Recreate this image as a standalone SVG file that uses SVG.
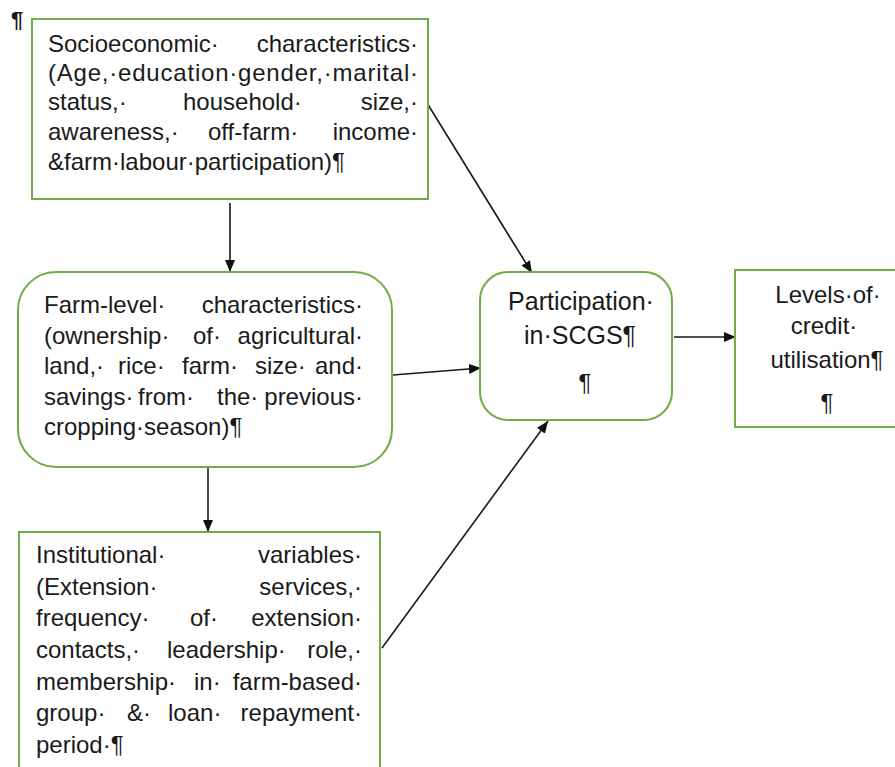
<svg xmlns="http://www.w3.org/2000/svg" width="895" height="767" viewBox="0 0 895 767">
<style>
.box{fill:#fff;stroke:#70AD47;stroke-width:2}
.t{font-family:"Liberation Sans",Arial,sans-serif;font-size:24px;fill:#1a1a1a}
.e{text-anchor:end}
.m{text-anchor:middle}
.c{stroke:#1a1a1a;stroke-width:1.6;fill:none;marker-end:url(#ah)}
</style>
<defs>
<marker id="ah" markerWidth="12" markerHeight="12" refX="12" refY="6" orient="auto" markerUnits="userSpaceOnUse">
<path d="M0,1 L12,6 L0,11 Z" fill="#111"/>
</marker>
</defs>
<rect width="895" height="767" fill="#fff"/>
<text class="t" x="11" y="27" style="font-size:22px;font-weight:bold">¶</text>

<g id="connectors">
<line class="c" x1="230" y1="203" x2="230" y2="272"/>
<line class="c" x1="427" y1="103" x2="532" y2="273"/>
<line class="c" x1="393" y1="375" x2="481" y2="368"/>
<line class="c" x1="208" y1="468" x2="208" y2="532"/>
<line class="c" x1="382" y1="648" x2="548" y2="421"/>
<line class="c" x1="674" y1="337" x2="736" y2="337"/>
</g>

<g id="socioeconomic">
<rect class="box" x="32" y="19" width="396" height="180"/>
<text class="t" x="48" y="52">Socioeconomic·</text>
<text class="t e" x="418" y="52">characteristics·</text>
<text class="t" x="48" y="81" textLength="370" lengthAdjust="spacing">(Age,·education·gender,·marital·</text>
<text class="t" x="48" y="110">status,·</text>
<text class="t" x="183" y="110">household·</text>
<text class="t e" x="418" y="110">size,·</text>
<text class="t" x="48" y="140">awareness,·</text>
<text class="t" x="208" y="140">off-farm·</text>
<text class="t e" x="418" y="140">income·</text>
<text class="t" x="48" y="170">&amp;farm·labour·participation)¶</text>
</g>

<g id="farm-level">
<rect class="box" x="18" y="272" width="374" height="195" rx="38" ry="38"/>
<text class="t" x="44" y="313">Farm-level·</text>
<text class="t e" x="363" y="313">characteristics·</text>
<text class="t" x="44" y="343.5">(ownership·</text>
<text class="t" x="193" y="343.5">of·</text>
<text class="t e" x="363" y="343.5">agricultural·</text>
<text class="t" x="44" y="374">land,·</text>
<text class="t" x="118" y="374">rice·</text>
<text class="t" x="182" y="374">farm·</text>
<text class="t" x="255" y="374">size·</text>
<text class="t e" x="363" y="374">and·</text>
<text class="t" x="44" y="404.5">savings·</text>
<text class="t" x="138" y="404.5">from·</text>
<text class="t" x="217" y="404.5">the·</text>
<text class="t e" x="363" y="404.5">previous·</text>
<text class="t" x="44" y="435">cropping·season)¶</text>
</g>

<g id="institutional">
<rect class="box" x="19" y="532" width="361" height="250"/>
<text class="t" x="36" y="563">Institutional·</text>
<text class="t e" x="362" y="563">variables·</text>
<text class="t" x="36" y="594.7">(Extension·</text>
<text class="t e" x="362" y="594.7">services,·</text>
<text class="t" x="36" y="626.3">frequency·</text>
<text class="t" x="190" y="626.3">of·</text>
<text class="t e" x="362" y="626.3">extension·</text>
<text class="t" x="36" y="658">contacts,·</text>
<text class="t" x="167" y="658">leadership·</text>
<text class="t e" x="362" y="658">role,·</text>
<text class="t" x="36" y="689.7">membership·</text>
<text class="t" x="194" y="689.7">in·</text>
<text class="t e" x="362" y="689.7">farm-based·</text>
<text class="t" x="36" y="721.3">group·</text>
<text class="t" x="127" y="721.3">&amp;·</text>
<text class="t" x="168" y="721.3">loan·</text>
<text class="t e" x="362" y="721.3">repayment·</text>
<text class="t" x="36" y="753">period·¶</text>
</g>

<g id="participation">
<rect class="box" x="480" y="272" width="192" height="148" rx="28" ry="28"/>
<text class="t m" x="581" y="310" style="font-size:25px">Participation·</text>
<text class="t m" x="580" y="344" style="font-size:25px">in·SCGS¶</text>
<text class="t m" x="585" y="391">¶</text>
</g>

<g id="levels">
<rect class="box" x="735" y="270" width="175" height="157"/>
<text class="t m" x="828" y="303">Levels·of·</text>
<text class="t m" x="824" y="334">credit·</text>
<text class="t m" x="827" y="368">utilisation¶</text>
<text class="t m" x="827" y="411">¶</text>
</g>
</svg>
